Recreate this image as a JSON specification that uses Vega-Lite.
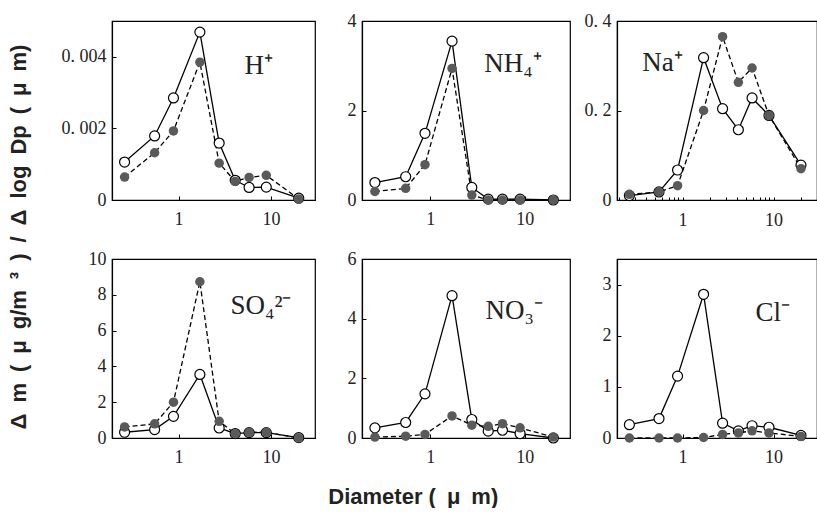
{
  "$schema": "https://vega.github.io/schema/vega-lite/v6.json",
  "padding": {"left": 8, "top": 11, "right": 0, "bottom": 0},
  "background": "white",
  "config": {
    "view": {"stroke": "black", "strokeWidth": 1.2},
    "axis": {"grid": false, "title": null, "labelFont": "Liberation Serif", "labelFontSize": 18, "labelColor": "#222", "domainColor": "black", "tickColor": "black", "tickSize": -4, "labelPadding": 10, "domainWidth": 1.2},
    "axisX": {"labelPadding": 14}
  },
  "title": {"text": "Diameter (\u2002μ\u2002m)", "orient": "bottom", "anchor": "middle", "font": "Liberation Sans", "fontSize": 22, "fontWeight": "bold", "color": "#222", "offset": 20},
  "datasets": {
    "main": [
      {"ion": "H", "s": "open", "d": 0.26, "v": 0.00106}, {"ion": "H", "s": "open", "d": 0.55, "v": 0.00179}, {"ion": "H", "s": "open", "d": 0.88, "v": 0.00285}, {"ion": "H", "s": "open", "d": 1.7, "v": 0.00469}, {"ion": "H", "s": "open", "d": 2.75, "v": 0.00159}, {"ion": "H", "s": "open", "d": 4.1, "v": 0.00055}, {"ion": "H", "s": "open", "d": 5.8, "v": 0.00035}, {"ion": "H", "s": "open", "d": 8.9, "v": 0.00036}, {"ion": "H", "s": "open", "d": 20, "v": 0.00005},
      {"ion": "H", "s": "filled", "d": 0.26, "v": 0.00064}, {"ion": "H", "s": "filled", "d": 0.55, "v": 0.00132}, {"ion": "H", "s": "filled", "d": 0.88, "v": 0.00193}, {"ion": "H", "s": "filled", "d": 1.7, "v": 0.00385}, {"ion": "H", "s": "filled", "d": 2.75, "v": 0.00103}, {"ion": "H", "s": "filled", "d": 4.1, "v": 0.00052}, {"ion": "H", "s": "filled", "d": 5.8, "v": 0.00063}, {"ion": "H", "s": "filled", "d": 8.9, "v": 0.00069}, {"ion": "H", "s": "filled", "d": 20, "v": 0.00003},
      {"ion": "NH4", "s": "open", "d": 0.26, "v": 0.39}, {"ion": "NH4", "s": "open", "d": 0.55, "v": 0.52}, {"ion": "NH4", "s": "open", "d": 0.88, "v": 1.49}, {"ion": "NH4", "s": "open", "d": 1.7, "v": 3.55}, {"ion": "NH4", "s": "open", "d": 2.75, "v": 0.28}, {"ion": "NH4", "s": "open", "d": 4.1, "v": 0.02}, {"ion": "NH4", "s": "open", "d": 5.8, "v": 0.02}, {"ion": "NH4", "s": "open", "d": 8.9, "v": 0.02}, {"ion": "NH4", "s": "open", "d": 20, "v": 0.0},
      {"ion": "NH4", "s": "filled", "d": 0.26, "v": 0.19}, {"ion": "NH4", "s": "filled", "d": 0.55, "v": 0.26}, {"ion": "NH4", "s": "filled", "d": 0.88, "v": 0.79}, {"ion": "NH4", "s": "filled", "d": 1.7, "v": 2.94}, {"ion": "NH4", "s": "filled", "d": 2.75, "v": 0.11}, {"ion": "NH4", "s": "filled", "d": 4.1, "v": 0.0}, {"ion": "NH4", "s": "filled", "d": 5.8, "v": 0.0}, {"ion": "NH4", "s": "filled", "d": 8.9, "v": 0.0}, {"ion": "NH4", "s": "filled", "d": 20, "v": 0.0},
      {"ion": "Na", "s": "open", "d": 0.26, "v": 0.01}, {"ion": "Na", "s": "open", "d": 0.55, "v": 0.018}, {"ion": "Na", "s": "open", "d": 0.88, "v": 0.067}, {"ion": "Na", "s": "open", "d": 1.7, "v": 0.318}, {"ion": "Na", "s": "open", "d": 2.75, "v": 0.204}, {"ion": "Na", "s": "open", "d": 4.1, "v": 0.157}, {"ion": "Na", "s": "open", "d": 5.8, "v": 0.228}, {"ion": "Na", "s": "open", "d": 8.9, "v": 0.189}, {"ion": "Na", "s": "open", "d": 20, "v": 0.078},
      {"ion": "Na", "s": "filled", "d": 0.26, "v": 0.0126}, {"ion": "Na", "s": "filled", "d": 0.55, "v": 0.018}, {"ion": "Na", "s": "filled", "d": 0.88, "v": 0.032}, {"ion": "Na", "s": "filled", "d": 1.7, "v": 0.2}, {"ion": "Na", "s": "filled", "d": 2.75, "v": 0.365}, {"ion": "Na", "s": "filled", "d": 4.1, "v": 0.263}, {"ion": "Na", "s": "filled", "d": 5.8, "v": 0.295}, {"ion": "Na", "s": "filled", "d": 8.9, "v": 0.189}, {"ion": "Na", "s": "filled", "d": 20, "v": 0.07},
      {"ion": "SO4", "s": "open", "d": 0.26, "v": 0.32}, {"ion": "SO4", "s": "open", "d": 0.55, "v": 0.47}, {"ion": "SO4", "s": "open", "d": 0.88, "v": 1.21}, {"ion": "SO4", "s": "open", "d": 1.7, "v": 3.55}, {"ion": "SO4", "s": "open", "d": 2.75, "v": 0.56}, {"ion": "SO4", "s": "open", "d": 4.1, "v": 0.25}, {"ion": "SO4", "s": "open", "d": 5.8, "v": 0.3}, {"ion": "SO4", "s": "open", "d": 8.9, "v": 0.3}, {"ion": "SO4", "s": "open", "d": 20, "v": 0.02},
      {"ion": "SO4", "s": "filled", "d": 0.26, "v": 0.62}, {"ion": "SO4", "s": "filled", "d": 0.55, "v": 0.79}, {"ion": "SO4", "s": "filled", "d": 0.88, "v": 2.0}, {"ion": "SO4", "s": "filled", "d": 1.7, "v": 8.73}, {"ion": "SO4", "s": "filled", "d": 2.75, "v": 0.93}, {"ion": "SO4", "s": "filled", "d": 4.1, "v": 0.24}, {"ion": "SO4", "s": "filled", "d": 5.8, "v": 0.32}, {"ion": "SO4", "s": "filled", "d": 8.9, "v": 0.32}, {"ion": "SO4", "s": "filled", "d": 20, "v": 0.0},
      {"ion": "NO3", "s": "open", "d": 0.26, "v": 0.34}, {"ion": "NO3", "s": "open", "d": 0.55, "v": 0.52}, {"ion": "NO3", "s": "open", "d": 0.88, "v": 1.48}, {"ion": "NO3", "s": "open", "d": 1.7, "v": 4.77}, {"ion": "NO3", "s": "open", "d": 2.75, "v": 0.62}, {"ion": "NO3", "s": "open", "d": 4.1, "v": 0.23}, {"ion": "NO3", "s": "open", "d": 5.8, "v": 0.26}, {"ion": "NO3", "s": "open", "d": 8.9, "v": 0.15}, {"ion": "NO3", "s": "open", "d": 20, "v": 0.0},
      {"ion": "NO3", "s": "filled", "d": 0.26, "v": 0.03}, {"ion": "NO3", "s": "filled", "d": 0.55, "v": 0.06}, {"ion": "NO3", "s": "filled", "d": 0.88, "v": 0.12}, {"ion": "NO3", "s": "filled", "d": 1.7, "v": 0.74}, {"ion": "NO3", "s": "filled", "d": 2.75, "v": 0.43}, {"ion": "NO3", "s": "filled", "d": 4.1, "v": 0.39}, {"ion": "NO3", "s": "filled", "d": 5.8, "v": 0.48}, {"ion": "NO3", "s": "filled", "d": 8.9, "v": 0.34}, {"ion": "NO3", "s": "filled", "d": 20, "v": 0.03},
      {"ion": "Cl", "s": "open", "d": 0.26, "v": 0.26}, {"ion": "Cl", "s": "open", "d": 0.55, "v": 0.38}, {"ion": "Cl", "s": "open", "d": 0.88, "v": 1.21}, {"ion": "Cl", "s": "open", "d": 1.7, "v": 2.81}, {"ion": "Cl", "s": "open", "d": 2.75, "v": 0.29}, {"ion": "Cl", "s": "open", "d": 4.1, "v": 0.14}, {"ion": "Cl", "s": "open", "d": 5.8, "v": 0.24}, {"ion": "Cl", "s": "open", "d": 8.9, "v": 0.21}, {"ion": "Cl", "s": "open", "d": 20, "v": 0.05},
      {"ion": "Cl", "s": "filled", "d": 0.26, "v": 0.0}, {"ion": "Cl", "s": "filled", "d": 0.55, "v": 0.0}, {"ion": "Cl", "s": "filled", "d": 0.88, "v": 0.0}, {"ion": "Cl", "s": "filled", "d": 1.7, "v": 0.01}, {"ion": "Cl", "s": "filled", "d": 2.75, "v": 0.07}, {"ion": "Cl", "s": "filled", "d": 4.1, "v": 0.1}, {"ion": "Cl", "s": "filled", "d": 5.8, "v": 0.14}, {"ion": "Cl", "s": "filled", "d": 8.9, "v": 0.1}, {"ion": "Cl", "s": "filled", "d": 20, "v": 0.03}
    ]
  },
  "vconcat": [
    {
      "title": {"text": "Δ\u2002m\u2002(\u2002μ\u2002g/m\u2002³\u2002)\u2002/\u2002Δ\u2002log\u2002Dp\u2002(\u2002μ\u2002m)", "orient": "left", "anchor": "middle", "dx": 2, "font": "Liberation Sans", "fontSize": 22, "fontWeight": "bold", "color": "#222", "offset": 29},
      "columns": 3,
      "bounds": "flush",
      "align": "each",
      "spacing": {"row": 59, "column": 47},
      "concat": [
        {
          "width": 203, "height": 179,
          "data": {"name": "main"},
          "encoding": {
            "x": {"field": "d", "type": "quantitative", "scale": {"type": "log", "domain": [0.19, 30]}, "axis": {"values": [1, 10], "format": "d"}},
            "y": {"field": "v", "type": "quantitative", "scale": {"domain": [0, 0.005]}, "axis": {"values": [0, 0.002, 0.004], "labelExpr": "datum.value == 0 ? '0' : replace(format(datum.value, '.3f'), '.', '. ')"}}
          },
          "layer": [
            {"transform": [{"filter": "datum.ion == 'H' && datum.s == 'open'"}], "mark": {"type": "line", "color": "black", "strokeWidth": 1.3}},
            {"transform": [{"filter": "datum.ion == 'H' && datum.s == 'filled'"}], "mark": {"type": "line", "color": "black", "strokeWidth": 1.3, "strokeDash": [5, 3]}},
            {"transform": [{"filter": "datum.ion == 'H' && datum.s == 'open'"}], "mark": {"type": "point", "filled": true, "fill": "white", "stroke": "black", "strokeWidth": 1.2, "size": 100, "opacity": 1}},
            {"transform": [{"filter": "datum.ion == 'H' && datum.s == 'filled'"}], "mark": {"type": "point", "filled": true, "color": "#5a5a5a", "size": 90, "opacity": 1}},
            {"transform": [{"filter": "datum.ion == 'H' && datum.s == 'open' && datum.d == 20"}], "mark": {"type": "text", "text": "H⁺", "font": "Liberation Serif", "fontSize": 27, "color": "#222"}, "encoding": {"x": {"datum": 7.4}, "y": {"datum": 0.00375}}}
          ]
        },
        {
          "width": 208, "height": 179,
          "data": {"name": "main"},
          "encoding": {
            "x": {"field": "d", "type": "quantitative", "scale": {"type": "log", "domain": [0.19, 30]}, "axis": {"values": [1, 10], "format": "d"}},
            "y": {"field": "v", "type": "quantitative", "scale": {"domain": [0, 4]}, "axis": {"values": [0, 2, 4]}}
          },
          "layer": [
            {"transform": [{"filter": "datum.ion == 'NH4' && datum.s == 'open'"}], "mark": {"type": "line", "color": "black", "strokeWidth": 1.3}},
            {"transform": [{"filter": "datum.ion == 'NH4' && datum.s == 'filled'"}], "mark": {"type": "line", "color": "black", "strokeWidth": 1.3, "strokeDash": [5, 3]}},
            {"transform": [{"filter": "datum.ion == 'NH4' && datum.s == 'open'"}], "mark": {"type": "point", "filled": true, "fill": "white", "stroke": "black", "strokeWidth": 1.2, "size": 100, "opacity": 1}},
            {"transform": [{"filter": "datum.ion == 'NH4' && datum.s == 'filled'"}], "mark": {"type": "point", "filled": true, "color": "#5a5a5a", "size": 90, "opacity": 1}},
            {"transform": [{"filter": "datum.ion == 'NH4' && datum.s == 'open' && datum.d == 20"}], "mark": {"type": "text", "text": "NH₄⁺", "font": "Liberation Serif", "fontSize": 27, "color": "#222"}, "encoding": {"x": {"datum": 7.5}, "y": {"datum": 3.05}}}
          ]
        },
        {
          "width": 200, "height": 179,
          "data": {"name": "main"},
          "encoding": {
            "x": {"field": "d", "type": "quantitative", "scale": {"type": "log", "domain": [0.19, 30]}, "axis": {"values": [0.2, 0.3, 0.4, 0.5, 0.6, 0.7, 0.8, 0.9, 1, 2, 3, 4, 5, 6, 7, 8, 9, 10, 20, 30], "tickSize": -3, "labelExpr": "datum.value == 1 || datum.value == 10 ? datum.label : ''", "format": "d"}},
            "y": {"field": "v", "type": "quantitative", "scale": {"domain": [0, 0.4]}, "axis": {"values": [0, 0.2, 0.4], "labelExpr": "datum.value == 0 ? '0' : replace(format(datum.value, '.1f'), '.', '. ')"}}
          },
          "layer": [
            {"transform": [{"filter": "datum.ion == 'Na' && datum.s == 'open'"}], "mark": {"type": "line", "color": "black", "strokeWidth": 1.3}},
            {"transform": [{"filter": "datum.ion == 'Na' && datum.s == 'filled'"}], "mark": {"type": "line", "color": "black", "strokeWidth": 1.3, "strokeDash": [5, 3]}},
            {"transform": [{"filter": "datum.ion == 'Na' && datum.s == 'open'"}], "mark": {"type": "point", "filled": true, "fill": "white", "stroke": "black", "strokeWidth": 1.2, "size": 100, "opacity": 1}},
            {"transform": [{"filter": "datum.ion == 'Na' && datum.s == 'filled'"}], "mark": {"type": "point", "filled": true, "color": "#5a5a5a", "size": 90, "opacity": 1}},
            {"transform": [{"filter": "datum.ion == 'Na' && datum.s == 'open' && datum.d == 20"}], "mark": {"type": "text", "text": "Na⁺", "font": "Liberation Serif", "fontSize": 27, "color": "#222"}, "encoding": {"x": {"datum": 0.6}, "y": {"datum": 0.307}}}
          ]
        },
        {
          "width": 203, "height": 179,
          "data": {"name": "main"},
          "encoding": {
            "x": {"field": "d", "type": "quantitative", "scale": {"type": "log", "domain": [0.19, 30]}, "axis": {"values": [1, 10], "format": "d"}},
            "y": {"field": "v", "type": "quantitative", "scale": {"domain": [0, 10]}, "axis": {"values": [0, 2, 4, 6, 8, 10]}}
          },
          "layer": [
            {"transform": [{"filter": "datum.ion == 'SO4' && datum.s == 'open'"}], "mark": {"type": "line", "color": "black", "strokeWidth": 1.3}},
            {"transform": [{"filter": "datum.ion == 'SO4' && datum.s == 'filled'"}], "mark": {"type": "line", "color": "black", "strokeWidth": 1.3, "strokeDash": [5, 3]}},
            {"transform": [{"filter": "datum.ion == 'SO4' && datum.s == 'open'"}], "mark": {"type": "point", "filled": true, "fill": "white", "stroke": "black", "strokeWidth": 1.2, "size": 100, "opacity": 1}},
            {"transform": [{"filter": "datum.ion == 'SO4' && datum.s == 'filled'"}], "mark": {"type": "point", "filled": true, "color": "#5a5a5a", "size": 90, "opacity": 1}},
            {"transform": [{"filter": "datum.ion == 'SO4' && datum.s == 'open' && datum.d == 20"}], "mark": {"type": "text", "text": "SO₄²⁻", "font": "Liberation Serif", "fontSize": 27, "color": "#222"}, "encoding": {"x": {"datum": 7.8}, "y": {"datum": 7.38}}}
          ]
        },
        {
          "width": 208, "height": 179,
          "data": {"name": "main"},
          "encoding": {
            "x": {"field": "d", "type": "quantitative", "scale": {"type": "log", "domain": [0.19, 30]}, "axis": {"values": [1, 10], "format": "d"}},
            "y": {"field": "v", "type": "quantitative", "scale": {"domain": [0, 6]}, "axis": {"values": [0, 2, 4, 6]}}
          },
          "layer": [
            {"transform": [{"filter": "datum.ion == 'NO3' && datum.s == 'open'"}], "mark": {"type": "line", "color": "black", "strokeWidth": 1.3}},
            {"transform": [{"filter": "datum.ion == 'NO3' && datum.s == 'filled'"}], "mark": {"type": "line", "color": "black", "strokeWidth": 1.3, "strokeDash": [5, 3]}},
            {"transform": [{"filter": "datum.ion == 'NO3' && datum.s == 'open'"}], "mark": {"type": "point", "filled": true, "fill": "white", "stroke": "black", "strokeWidth": 1.2, "size": 100, "opacity": 1}},
            {"transform": [{"filter": "datum.ion == 'NO3' && datum.s == 'filled'"}], "mark": {"type": "point", "filled": true, "color": "#5a5a5a", "size": 90, "opacity": 1}},
            {"transform": [{"filter": "datum.ion == 'NO3' && datum.s == 'open' && datum.d == 20"}], "mark": {"type": "text", "text": "NO₃⁻", "font": "Liberation Serif", "fontSize": 27, "color": "#222"}, "encoding": {"x": {"datum": 7.7}, "y": {"datum": 4.26}}}
          ]
        },
        {
          "width": 200, "height": 179,
          "data": {"name": "main"},
          "encoding": {
            "x": {"field": "d", "type": "quantitative", "scale": {"type": "log", "domain": [0.19, 30]}, "axis": {"values": [1, 10], "format": "d"}},
            "y": {"field": "v", "type": "quantitative", "scale": {"domain": [0, 3.5]}, "axis": {"values": [0, 1, 2, 3]}}
          },
          "layer": [
            {"transform": [{"filter": "datum.ion == 'Cl' && datum.s == 'open'"}], "mark": {"type": "line", "color": "black", "strokeWidth": 1.3}},
            {"transform": [{"filter": "datum.ion == 'Cl' && datum.s == 'filled'"}], "mark": {"type": "line", "color": "black", "strokeWidth": 1.3, "strokeDash": [5, 3]}},
            {"transform": [{"filter": "datum.ion == 'Cl' && datum.s == 'open'"}], "mark": {"type": "point", "filled": true, "fill": "white", "stroke": "black", "strokeWidth": 1.2, "size": 100, "opacity": 1}},
            {"transform": [{"filter": "datum.ion == 'Cl' && datum.s == 'filled'"}], "mark": {"type": "point", "filled": true, "color": "#5a5a5a", "size": 90, "opacity": 1}},
            {"transform": [{"filter": "datum.ion == 'Cl' && datum.s == 'open' && datum.d == 20"}], "mark": {"type": "text", "text": "Cl⁻", "font": "Liberation Serif", "fontSize": 27, "color": "#222"}, "encoding": {"x": {"datum": 9.8}, "y": {"datum": 2.45}}}
          ]
        }
      ]
    }
  ]
}
